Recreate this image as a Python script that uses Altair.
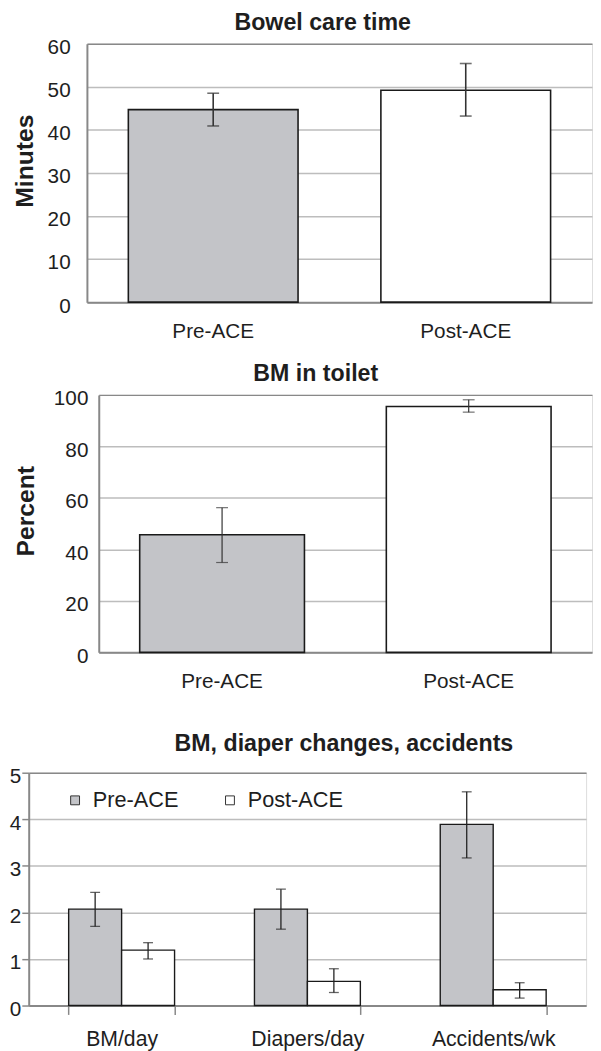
import altair as alt
import pandas as pd

FONT = "Liberation Sans"
TXT = "#1e1e1e"
AX = "#888888"
GRID = "#bdbdbd"

phases = ["Pre-ACE", "Post-ACE"]
fills = ["#c3c4c8", "#ffffff"]

# Panel 1: Bowel care time (minutes)
care_mean = [44.7, 49.2]
care_lo = [40.9, 43.2]
care_hi = [48.5, 55.4]
care_ticks = [0, 10, 20, 30, 40, 50, 60]

# Panel 2: BM in toilet (percent)
toilet_mean = [45.7, 95.5]
toilet_lo = [34.9, 93.3]
toilet_hi = [56.2, 98.1]
toilet_ticks = [0, 20, 40, 60, 80, 100]

# Panel 3: BM, diaper changes, accidents
measures = ["BM/day", "Diapers/day", "Accidents/wk"]
pre_mean = [2.07, 2.07, 3.89]
pre_lo = [1.70, 1.64, 3.17]
pre_hi = [2.43, 2.50, 4.59]
post_mean = [1.19, 0.52, 0.34]
post_lo = [1.00, 0.28, 0.16]
post_hi = [1.35, 0.79, 0.49]
count_ticks = [0, 1, 2, 3, 4, 5]


def grid_color(top):
    return {"condition": {"test": f"datum.value === {top}", "value": AX}, "value": GRID}


def two_bar_panel(title, ytitle, mean, lo, hi, ticks, width, height, pad_in,
                  ylabel_pad, ytitle_x, ytitle_y, title_dx, title_offset,
                  xlabel_pad, cap, err_w):
    df = pd.DataFrame({"phase": phases, "mean": mean, "lo": lo, "hi": hi})
    top = ticks[-1]
    xenc = alt.X(
        "phase:N", sort=phases,
        scale=alt.Scale(paddingInner=pad_in, paddingOuter=pad_in / 2),
        axis=alt.Axis(title=None, labelAngle=0, ticks=False, tickSize=0,
                      domainColor=AX, domainWidth=2, labelPadding=xlabel_pad,
                      labelFontSize=21, labelFont=FONT, labelColor=TXT),
    )

    def yenc(field):
        return alt.Y(
            f"{field}:Q",
            scale=alt.Scale(domain=[0, top], nice=False, zero=True),
            axis=alt.Axis(values=ticks, title=ytitle, titleFont=FONT,
                          titleFontSize=25, titleFontWeight="bold",
                          titleColor=TXT, titleAngle=270, titleAlign="center",
                          titleBaseline="alphabetic", titleX=ytitle_x,
                          titleY=ytitle_y, ticks=False, tickSize=0,
                          domainColor=AX, domainWidth=2, grid=True,
                          gridColor=grid_color(top), gridWidth=1.5,
                          labelPadding=ylabel_pad, labelFontSize=21,
                          labelFont=FONT, labelColor=TXT, labelOffset=4),
        )

    base = alt.Chart(df)
    bars = base.mark_bar(stroke="#1a1a1a", strokeWidth=1.6).encode(
        x=xenc, y=yenc("mean"),
        fill=alt.Fill("phase:N", scale=alt.Scale(domain=phases, range=fills),
                      legend=None),
    )
    rule = base.mark_rule(color="#333333", strokeWidth=err_w).encode(
        x=xenc, y=yenc("lo"), y2="hi:Q")
    cap_lo = base.mark_tick(color="#333333", size=cap, thickness=err_w).encode(
        x=xenc, y=yenc("lo"))
    cap_hi = base.mark_tick(color="#333333", size=cap, thickness=err_w).encode(
        x=xenc, y=yenc("hi"))
    return alt.layer(bars, rule, cap_lo, cap_hi).properties(
        width=width, height=height,
        title=alt.TitleParams(text=title, font=FONT, fontSize=23.5,
                              fontWeight="bold", color=TXT, anchor="middle",
                              dx=title_dx, offset=title_offset,
                              baseline="alphabetic"),
    )


def spacer(w):
    return alt.Chart(pd.DataFrame({"s": [0]})).mark_point(size=0, opacity=0).encode(
        x=alt.value(0), y=alt.value(0)
    ).properties(width=w, height=10, view=alt.ViewBackground(stroke="transparent"))


p1 = two_bar_panel("Bowel care time", "Minutes", care_mean, care_lo, care_hi,
                   care_ticks, 512, 262, 0.328, 17, -54.7, 118.5, -17, -17, 19,
                   12, 1.6)
p2 = two_bar_panel("BM in toilet", "Percent", toilet_mean, toilet_lo, toilet_hi,
                   toilet_ticks, 500, 261, 0.332, 11, -66.4, 117.4, -30, -16, 19,
                   12, 1.2)

# Panel 3
df3 = pd.DataFrame({
    "measure": measures * 2,
    "phase": [phases[0]] * 3 + [phases[1]] * 3,
    "mean": pre_mean + post_mean,
    "lo": pre_lo + post_lo,
    "hi": pre_hi + post_hi,
})
x3 = alt.X("measure:N", sort=measures,
           scale=alt.Scale(paddingInner=0.43, paddingOuter=0.215),
           axis=alt.Axis(title=None, labelAngle=0, tickBand="extent", ticks=True,
                         tickSize=9, tickColor=AX, tickWidth=1.5, domainColor=AX,
                         domainWidth=2, labelPadding=15, labelFontSize=21.5,
                         labelFont=FONT, labelColor=TXT))
xo3 = alt.XOffset("phase:N", sort=phases,
                  scale=alt.Scale(domain=phases, paddingInner=0, paddingOuter=0))


def y3(field):
    return alt.Y(f"{field}:Q", scale=alt.Scale(domain=[0, 5], nice=False),
                 axis=alt.Axis(values=count_ticks, title=None, ticks=True,
                               tickSize=7, tickColor=AX, tickWidth=1.5,
                               domainColor=AX, domainWidth=2, grid=True,
                               gridColor=grid_color(5), gridWidth=1.5,
                               labelPadding=1, labelFontSize=21, labelFont=FONT,
                               labelColor=TXT, labelOffset=4))


base3 = alt.Chart(df3)
bars3 = base3.mark_bar(stroke="#1a1a1a", strokeWidth=1.4).encode(
    x=x3, xOffset=xo3, y=y3("mean"),
    fill=alt.Fill("phase:N", sort=phases,
                  scale=alt.Scale(domain=phases, range=fills),
                  legend=alt.Legend(orient="none", legendX=36, legendY=17,
                                    direction="horizontal", title=None,
                                    symbolType="square", symbolSize=81,
                                    symbolStrokeColor="#333333",
                                    symbolStrokeWidth=1, labelFontSize=22,
                                    labelFont=FONT, labelColor=TXT,
                                    labelOffset=7, columnPadding=41)),
)
rule3 = base3.mark_rule(color="#222222", strokeWidth=1.3).encode(
    x=x3, xOffset=xo3, y=y3("lo"), y2="hi:Q")
caplo3 = base3.mark_tick(color="#222222", size=10, thickness=1.3).encode(
    x=x3, xOffset=xo3, y=y3("lo"))
caphi3 = base3.mark_tick(color="#222222", size=10, thickness=1.3).encode(
    x=x3, xOffset=xo3, y=y3("hi"))
p3 = alt.layer(bars3, rule3, caplo3, caphi3).properties(
    width=565, height=236,
    title=alt.TitleParams(text="BM, diaper changes, accidents", font=FONT,
                          fontSize=23.5, fontWeight="bold", color=TXT,
                          anchor="middle", dx=37, offset=-8,
                          baseline="alphabetic"),
)

row1 = alt.hconcat(spacer(59), p1, spacing=0, bounds="flush").resolve_scale(
    fill="independent").resolve_legend(fill="independent")
row2 = alt.hconcat(spacer(71), p2, spacing=0, bounds="flush").resolve_scale(
    fill="independent").resolve_legend(fill="independent")
top_block = alt.vconcat(row1, row2, spacing=19).resolve_scale(
    fill="independent").resolve_legend(fill="independent")

chart = alt.vconcat(top_block, p3, spacing=39).resolve_scale(
    fill="independent").resolve_legend(fill="independent").properties(
    padding={"left": 0, "top": -4, "right": 0, "bottom": 0}
).configure_view(stroke=AX, strokeWidth=2).configure(font=FONT)

chart.save("out.html", embed_options={"renderer": "svg", "actions": False})
